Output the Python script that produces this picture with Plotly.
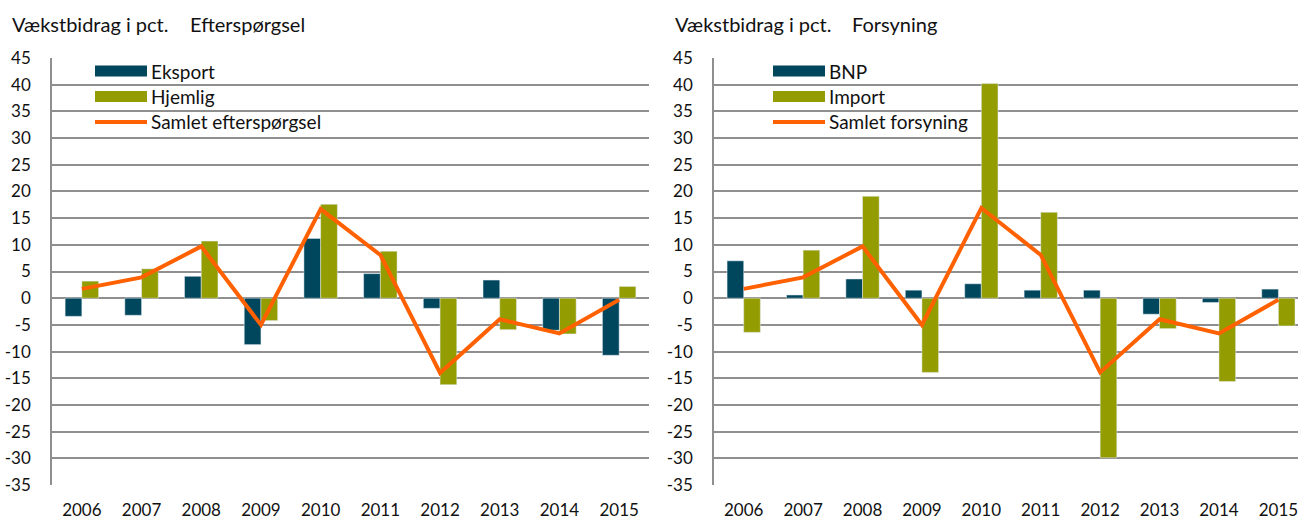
import plotly.graph_objects as go

years = ["2006", "2007", "2008", "2009", "2010", "2011", "2012", "2013", "2014", "2015"]

# Left panel: Efterspørgsel
eksport = [-3.4, -3.2, 4.1, -8.7, 11.2, 4.6, -1.9, 3.4, -6.0, -10.7]
hjemlig = [3.2, 5.5, 10.7, -4.2, 17.6, 8.8, -16.2, -5.9, -6.7, 2.2]
samlet_eft = [1.75, 3.9, 9.7, -5.0, 16.7, 8.1, -14.0, -3.95, -6.6, -0.3]

# Right panel: Forsyning
bnp = [7.0, 0.6, 3.6, 1.5, 2.7, 1.5, 1.5, -3.0, -0.8, 1.7]
importv = [-6.4, 9.0, 19.1, -13.9, 40.2, 16.1, -29.9, -5.7, -15.6, -5.2]
samlet_fors = [1.75, 3.9, 9.7, -5.0, 16.9, 8.1, -13.9, -3.95, -6.6, -0.3]

ytick_vals = [45, 40, 35, 30, 25, 20, 15, 10, 5, 0, -5, -10, -15, -20, -25, -30, -35]
ytick_text = ["45", "40", "35", "30", "25", "20", "15", "10", "5", "0", "-5", "-10", "-15", "-20", "-25", "-30", "-35"]

names_left = ["Eksport", "Hjemlig", "Samlet efterspørgsel"]
names_right = ["BNP", "Import", "Samlet forsyning"]

DARK = "#00465C"
OLIVE = "#939C00"
ORANGE = "#FF6100"
GRID = "#8f8f8f"
FONT = "Lato"
TXT = "#111"

W, H = 1298, 522

fig = go.Figure()
fig.add_trace(go.Bar(x=years, y=eksport, name=names_left[0], marker_color=DARK, xaxis="x", yaxis="y"))
fig.add_trace(go.Bar(x=years, y=hjemlig, name=names_left[1], marker_color=OLIVE, xaxis="x", yaxis="y"))
fig.add_trace(go.Scatter(x=years, y=samlet_eft, name=names_left[2], mode="lines",
                         line=dict(color=ORANGE, width=4), xaxis="x", yaxis="y"))
fig.add_trace(go.Bar(x=years, y=bnp, name=names_right[0], marker_color=DARK, xaxis="x2", yaxis="y2"))
fig.add_trace(go.Bar(x=years, y=importv, name=names_right[1], marker_color=OLIVE, xaxis="x2", yaxis="y2"))
fig.add_trace(go.Scatter(x=years, y=samlet_fors, name=names_right[2], mode="lines",
                         line=dict(color=ORANGE, width=4), xaxis="x2", yaxis="y2"))

def px_x(p):
    return p / W

def px_y(p):
    return 1 - p / H

ydom = [px_y(485), px_y(58)]
yaxis_common = dict(range=[-35, 45], tickvals=ytick_vals, ticktext=ytick_text,
                    showgrid=True, gridcolor=GRID, gridwidth=1.5,
                    zeroline=True, zerolinecolor=GRID, zerolinewidth=1.5,
                    showline=True, linecolor=GRID, linewidth=1.5,
                    ticks="", ticklabelstandoff=16, domain=ydom, automargin=False,
                    tickfont=dict(family=FONT, size=17, color=TXT))
xaxis_common = dict(type="category", showgrid=False, zeroline=False, showline=False,
                    ticks="", ticklabelstandoff=13, automargin=False,
                    tickfont=dict(family=FONT, size=17, color=TXT))

fig.update_layout(
    width=W, height=H,
    margin=dict(l=0, r=0, t=0, b=0),
    paper_bgcolor="white", plot_bgcolor="white",
    barmode="group", bargap=0.44, bargroupgap=0,
    showlegend=False,
    xaxis=dict(xaxis_common, domain=[px_x(52), px_x(649)], anchor="y", range=[-0.5, 9.5]),
    yaxis=dict(yaxis_common, anchor="x"),
    xaxis2=dict(xaxis_common, domain=[px_x(714), 1.0], anchor="y2", range=[-0.5, 9.33]),
    yaxis2=dict(yaxis_common, anchor="x2"),
)

# Titles
titles = [(10, "Vækstbidrag i pct."), (188, "Efterspørgsel"), (673, "Vækstbidrag i pct."), (850, "Forsyning")]
for xp, t in titles:
    fig.add_annotation(x=px_x(xp), y=px_y(24), xref="paper", yref="paper", text=t, showarrow=False,
                       xanchor="left", yanchor="middle", font=dict(family=FONT, size=20, color=TXT))

# Custom legends (wide swatches)
def add_legend(x0, names):
    rows = [71, 96.5, 122]
    for i, (name, yc) in enumerate(zip(names, rows)):
        if i < 2:
            fig.add_shape(type="rect", xref="paper", yref="paper",
                          x0=px_x(x0), x1=px_x(x0 + 52), y0=px_y(yc - 5.5), y1=px_y(yc + 5.5),
                          fillcolor=[DARK, OLIVE][i], line=dict(width=0))
        else:
            fig.add_shape(type="line", xref="paper", yref="paper",
                          x0=px_x(x0), x1=px_x(x0 + 52), y0=px_y(yc), y1=px_y(yc),
                          line=dict(color=ORANGE, width=4))
        fig.add_annotation(x=px_x(x0 + 54), y=px_y(yc), xref="paper", yref="paper", text=name,
                           showarrow=False, xanchor="left", yanchor="middle",
                           font=dict(family=FONT, size=19, color=TXT))

add_legend(95, names_left)
add_legend(773, names_right)

fig.write_html("out.html", config={"displayModeBar": False},
               post_script="document.body.style.margin='0';document.body.style.overflow='hidden';")
